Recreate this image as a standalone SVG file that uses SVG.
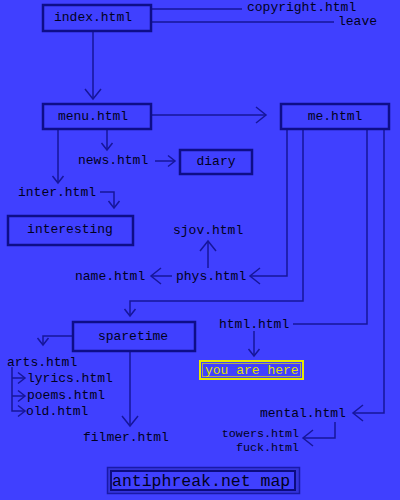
<svg xmlns="http://www.w3.org/2000/svg" width="400" height="500" viewBox="0 0 400 500">
<style>
text{font-family:"Liberation Mono","Courier New",monospace;font-size:13px;fill:#000020}
.c{text-anchor:middle}
.e{text-anchor:end}
.sm2{font-size:11.7px}
.box{fill:#4040ff;stroke:#0e0e88;stroke-width:2.5}
.ln{fill:none;stroke:#16169a;stroke-width:1.5}
.big{marker-end:url(#a)}
.sm{marker-end:url(#s)}
</style>
<defs>
<marker id="a" markerUnits="userSpaceOnUse" markerWidth="20" markerHeight="20" refX="0" refY="0" orient="auto" overflow="visible"><path d="M-10,-8 L0,0 L-10,8" fill="none" stroke="#16169a" stroke-width="1.5"/></marker>
<marker id="s" markerUnits="userSpaceOnUse" markerWidth="20" markerHeight="20" refX="0" refY="0" orient="auto" overflow="visible"><path d="M-7,-5.5 L0,0 L-7,5.5" fill="none" stroke="#16169a" stroke-width="1.5"/></marker>
</defs>
<rect width="400" height="500" fill="#4040ff"/>
<g id="connectors">
<path class="ln" d="M151,9 H242"/>
<path class="ln" d="M151,22 H334"/>
<path class="ln big" d="M93,31 V99"/>
<path class="ln big" d="M151,115 H266"/>
<path class="ln sm" d="M107,129 V150"/>
<path class="ln sm" d="M58,129 V183"/>
<path class="ln sm" d="M155,161 H175"/>
<path class="ln sm" d="M100,192 H114 V208"/>
<path class="ln big" d="M287,129 V276 H250"/>
<path class="ln big" d="M172,276 H151"/>
<path class="ln big" d="M208,268 V241"/>
<path class="ln sm" d="M303,129 V301 H130 V316"/>
<path class="ln" d="M367,129 V324 H293"/>
<path class="ln sm" d="M254,331 V356"/>
<path class="ln big" d="M384,129 V413 H353"/>
<path class="ln big" d="M335,422 V438 H303"/>
<path class="ln sm" d="M72,336 H43 V345"/>
<path class="ln big" d="M130,352 V426"/>
<path class="ln sm" d="M12,367 V411 H25"/>
<path class="ln sm" d="M12,378 H25"/>
<path class="ln sm" d="M12,396 H25"/>
</g>
<g id="index"><rect class="box" x="43" y="5" width="108" height="26"/><text class="c" x="93" y="21">index.html</text></g>
<g id="copyright"><text x="247" y="11">copyright.html</text></g>
<g id="leave"><text x="338" y="25">leave</text></g>
<g id="menu"><rect class="box" x="43" y="104" width="108" height="25"/><text class="c" x="93" y="120">menu.html</text></g>
<g id="me"><rect class="box" x="281" y="104" width="108" height="25"/><text class="c" x="335" y="120">me.html</text></g>
<g id="news"><text x="78" y="164">news.html</text></g>
<g id="diary"><rect class="box" x="180" y="150" width="72" height="24"/><text class="c" x="216" y="165">diary</text></g>
<g id="inter"><text x="18" y="196">inter.html</text></g>
<g id="interesting"><rect class="box" x="8" y="216" width="125" height="29"/><text class="c" x="70" y="233">interesting</text></g>
<g id="sjov"><text x="173" y="234">sjov.html</text></g>
<g id="phys"><text x="176" y="280">phys.html</text></g>
<g id="name"><text x="75" y="280">name.html</text></g>
<g id="sparetime"><rect class="box" x="73" y="322" width="122" height="29"/><text class="c" x="133" y="340">sparetime</text></g>
<g id="arts"><text x="7" y="366">arts.html</text></g>
<g id="lyrics"><text x="27" y="382">lyrics.html</text></g>
<g id="poems"><text x="27" y="399">poems.html</text></g>
<g id="old"><text x="26" y="415">old.html</text></g>
<g id="filmer"><text x="83" y="441">filmer.html</text></g>
<g id="htmlhtml"><text x="219" y="328">html.html</text></g>
<g id="here"><rect x="200" y="361" width="103" height="18" fill="#4040ff" stroke="#e8e800" stroke-width="2"/><rect x="202.5" y="363.5" width="98" height="13" fill="none" stroke="#c8c830" stroke-width="0.8"/><text x="205" y="374" style="fill:#e0e000">you are here</text></g>
<g id="mental"><text x="260" y="417">mental.html</text></g>
<g id="towers"><text class="e sm2" x="299" y="437">towers.html</text></g>
<g id="fuck"><text class="e sm2" x="299" y="451">fuck.html</text></g>
<g id="title"><rect x="107.5" y="467.5" width="192" height="26" fill="#3434dc" stroke="#1a1aa8" stroke-width="1.5"/><rect x="111" y="471" width="184" height="19" fill="#4040ff" stroke="#0c0c80" stroke-width="2"/><text x="112" y="486" style="font-size:16.5px">antiphreak.net map</text></g>
</svg>
